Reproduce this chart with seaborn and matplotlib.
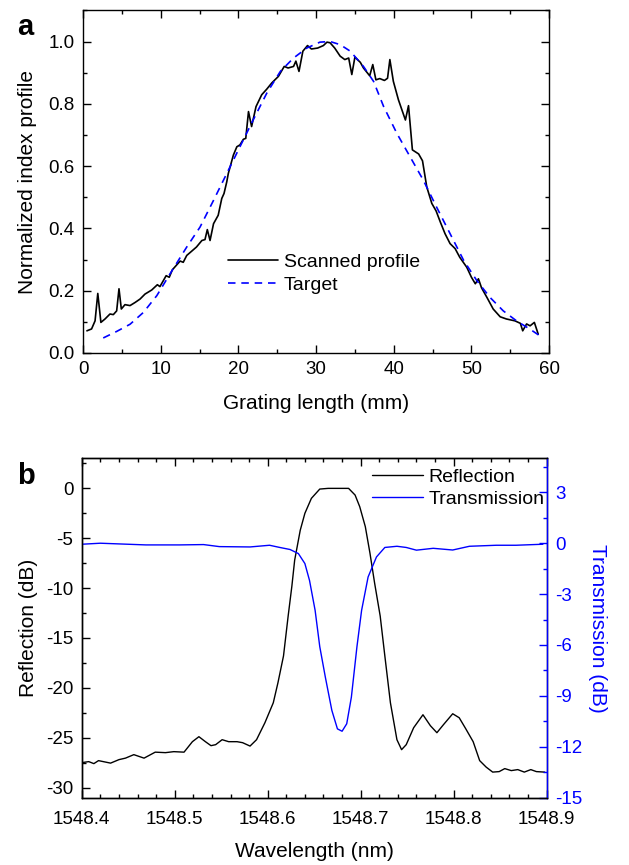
import numpy as np
import pandas as pd
import matplotlib
matplotlib.use("Agg")
import matplotlib.pyplot as plt
from matplotlib.ticker import MultipleLocator, FormatStrFormatter
import seaborn as sns

# ---------------- data: panel a ----------------
scan_x = [0.5, 1.1, 1.55, 1.9, 2.3, 2.83, 3.47, 3.9, 4.33, 4.63, 4.93, 5.4, 6.05, 6.7, 7.34,
          7.98, 8.84, 9.57, 9.9, 10.7, 11.1, 11.5, 12.5, 12.9, 13.35, 14.0, 14.6, 15.3, 15.7, 16.0,
          16.35, 16.8, 17.4, 17.86, 18.15, 18.5, 18.7, 19.35, 19.8, 20.2, 20.64, 20.95, 21.3, 21.7, 22.27,
          23.0, 23.65, 24.3, 25.15, 25.9, 26.4, 27.1, 27.4, 27.8, 28.3, 28.9, 29.4, 30.2, 30.94, 31.4,
          31.8, 32.4, 33.1, 33.7, 34.2, 34.6, 35.0, 35.7, 36.1, 36.9, 37.3, 37.7, 38.2, 38.8, 39.2,
          39.5, 39.95, 40.6, 41.5, 41.9, 42.4, 43.2, 43.7, 44.25, 44.9, 45.45, 46.0, 46.6, 47.25, 47.9,
          48.5, 49.4, 50.0, 50.5, 50.9, 51.3, 52.0, 52.8, 53.7, 54.5, 55.6, 56.3, 56.6, 57.1, 57.55,
          58.1, 58.6]
scan_y = [0.071, 0.077, 0.103, 0.191, 0.098, 0.109, 0.125, 0.123, 0.135, 0.206, 0.141, 0.155, 0.152, 0.162, 0.173,
          0.189, 0.202, 0.219, 0.213, 0.248, 0.243, 0.267, 0.295, 0.291, 0.313, 0.327, 0.340, 0.361, 0.364, 0.396,
          0.361, 0.415, 0.442, 0.496, 0.512, 0.549, 0.576, 0.635, 0.662, 0.668, 0.686, 0.689, 0.775, 0.727, 0.791,
          0.829, 0.847, 0.867, 0.888, 0.920, 0.915, 0.920, 0.937, 0.904, 0.969, 0.987, 0.976, 0.979, 0.987, 0.998,
          0.996, 0.979, 0.953, 0.942, 0.947, 0.894, 0.950, 0.933, 0.915, 0.890, 0.926, 0.877, 0.881, 0.875, 0.882,
          0.942, 0.872, 0.813, 0.748, 0.794, 0.652, 0.639, 0.617, 0.533, 0.480, 0.456, 0.420, 0.383, 0.351, 0.335,
          0.307, 0.275, 0.243, 0.222, 0.238, 0.209, 0.178, 0.141, 0.116, 0.109, 0.103, 0.095, 0.071, 0.093, 0.087,
          0.098, 0.060]
tgt_x = [2.6, 4.33, 6.05, 7.77, 9.5, 11.2, 13.35, 15.06, 16.8, 18.5, 20.2, 21.9, 23.65, 25.4, 27.1,
         28.8, 30.5, 31.8, 33.1, 34.4, 36.1, 37.4, 38.7, 40.4, 42.1, 43.8, 45.5, 47.25, 49.0, 50.7,
         52.4, 54.1, 55.8, 57.55, 58.8]
tgt_y = [0.048, 0.069, 0.092, 0.130, 0.184, 0.254, 0.340, 0.404, 0.490, 0.576, 0.662, 0.748, 0.834, 0.904, 0.947,
         0.979, 0.998, 1.0, 0.990, 0.969, 0.920, 0.872, 0.791, 0.705, 0.630, 0.555, 0.469, 0.383, 0.297, 0.232,
         0.178, 0.135, 0.103, 0.076, 0.055]

# ---------------- data: panel b ----------------
refl_x = [1548.400, 1548.4075, 1548.413, 1548.418, 1548.431, 1548.440, 1548.447, 1548.456, 1548.467, 1548.479,
          1548.490, 1548.499, 1548.510, 1548.519, 1548.526, 1548.533, 1548.539, 1548.544, 1548.551, 1548.558,
          1548.567, 1548.573, 1548.581, 1548.588, 1548.597, 1548.606, 1548.611, 1548.617, 1548.622, 1548.626,
          1548.629, 1548.635, 1548.640, 1548.647, 1548.656, 1548.665, 1548.687, 1548.694, 1548.699, 1548.705,
          1548.710, 1548.715, 1548.721, 1548.726, 1548.732, 1548.739, 1548.744, 1548.749, 1548.757, 1548.767,
          1548.775, 1548.782, 1548.789, 1548.799, 1548.806, 1548.813, 1548.821, 1548.828, 1548.835, 1548.842,
          1548.849, 1548.855, 1548.862, 1548.869, 1548.876, 1548.883, 1548.889, 1548.898]
refl_y = [-27.5, -27.4, -27.6, -27.3, -27.55, -27.2, -27.05, -26.7, -27.05, -26.45,
          -26.5, -26.4, -26.45, -25.4, -24.9, -25.4, -25.8, -25.7, -25.2, -25.4,
          -25.4, -25.5, -25.84, -25.2, -23.5, -21.5, -19.5, -16.8, -12.8, -9.8,
          -7.2, -4.2, -2.5, -1.0, -0.07, 0.0, 0.0, -0.67, -1.84, -3.84,
          -6.5, -9.5, -12.8, -16.8, -21.5, -25.2, -26.2, -25.7, -24.0, -22.7,
          -23.8, -24.5, -23.7, -22.6, -23.0, -24.1, -25.4, -27.3, -27.95, -28.45,
          -28.4, -28.1, -28.3, -28.2, -28.45, -28.2, -28.4, -28.45]
trans_x = [1548.400, 1548.420, 1548.469, 1548.505, 1548.531, 1548.548, 1548.581, 1548.602, 1548.613, 1548.624,
           1548.633, 1548.640, 1548.645, 1548.651, 1548.656, 1548.662, 1548.669, 1548.675, 1548.680, 1548.685,
           1548.690, 1548.696, 1548.701, 1548.708, 1548.717, 1548.726, 1548.739, 1548.749, 1548.760, 1548.778,
           1548.799, 1548.817, 1548.846, 1548.867, 1548.896]
trans_y = [-0.06, 0.0, -0.1, -0.1, -0.08, -0.2, -0.22, -0.12, -0.25, -0.37,
           -0.61, -1.2, -2.2, -3.96, -6.1, -7.9, -9.86, -10.95, -11.09, -10.65,
           -9.08, -6.1, -3.96, -1.99, -0.81, -0.25, -0.18, -0.25, -0.41, -0.3,
           -0.4, -0.18, -0.12, -0.12, -0.06]

# ---------------- style ----------------
sns.set_style("ticks")
plt.rcParams["font.family"] = ["Liberation Sans", "DejaVu Sans"]
plt.rcParams["axes.linewidth"] = 1.0
plt.rcParams["axes.unicode_minus"] = False
for k in ["text.color", "axes.labelcolor", "xtick.color", "ytick.color", "axes.edgecolor"]:
    plt.rcParams[k] = "black"

TICK_FS = 13.5
LABEL_FS = 15
LEG_FS = 14
BLUE = "#0000ff"

fig = plt.figure(figsize=(6.29, 8.65), dpi=100)

# ---------------- panel a ----------------
axa = fig.add_axes([0.132, 0.592, 0.741, 0.396])
df_scan = pd.DataFrame({"x": scan_x, "y": scan_y})
df_tgt = pd.DataFrame({"x": tgt_x, "y": tgt_y})
sns.lineplot(data=df_scan, x="x", y="y", ax=axa, color="black", lw=1.2,
             label="Scanned profile", sort=False)
sns.lineplot(data=df_tgt, x="x", y="y", ax=axa, color=BLUE, lw=1.2,
             label="Target", sort=False, linestyle=(0, (4.5, 3.5)))
axa.set_xlim(0, 60)
axa.set_ylim(0, 1.1)
axa.xaxis.set_major_locator(MultipleLocator(10))
axa.xaxis.set_minor_locator(MultipleLocator(5))
axa.yaxis.set_minor_locator(MultipleLocator(0.1))
axa.set_yticks([0.0, 0.2, 0.4, 0.6, 0.8, 1.0])
axa.yaxis.set_major_formatter(FormatStrFormatter("%.1f"))
axa.tick_params(which="both", direction="in", top=True, right=True,
                labelsize=TICK_FS, width=1.0)
axa.tick_params(which="major", length=5.5)
axa.tick_params(which="minor", length=3)
axa.tick_params(axis="x", which="major", pad=6)
axa.tick_params(axis="y", which="major", pad=6)
axa.set_xlabel("Grating length (mm)", fontsize=LABEL_FS, labelpad=11)
axa.set_ylabel("Normalized index profile", fontsize=LABEL_FS, labelpad=8)
axa.legend(loc="upper left", bbox_to_anchor=(0.31, 0.29), frameon=False,
           fontsize=LEG_FS, handlelength=2.6, handletextpad=0.3,
           labelspacing=0.25, borderpad=0, borderaxespad=0)
fig.text(0.027, 0.985, "a", fontsize=21, fontweight="bold", va="top", ha="left")

# ---------------- panel b ----------------
axb = fig.add_axes([0.130, 0.078, 0.739, 0.392])
df_refl = pd.DataFrame({"x": refl_x, "y": refl_y})
df_trans = pd.DataFrame({"x": trans_x, "y": trans_y})
sns.lineplot(data=df_refl, x="x", y="y", ax=axb, color="black", lw=1.0,
             label="Reflection", sort=False, legend=False)
axb2 = axb.twinx()
sns.lineplot(data=df_trans, x="x", y="y", ax=axb2, color=BLUE, lw=1.0,
             label="Transmission", sort=False, legend=False)
axb.set_xlim(1548.4, 1548.9)
axb.set_ylim(-31, 3)
axb2.set_ylim(-15, 5)
axb.xaxis.set_major_locator(MultipleLocator(0.1))
axb.xaxis.set_minor_locator(MultipleLocator(0.02))
axb.xaxis.set_major_formatter(FormatStrFormatter("%.1f"))
axb.yaxis.set_major_locator(MultipleLocator(5))
axb.yaxis.set_minor_locator(MultipleLocator(2.5))
axb2.yaxis.set_major_locator(MultipleLocator(3))
axb2.yaxis.set_minor_locator(MultipleLocator(1.5))
axb.tick_params(which="both", direction="in", top=True, right=False,
                labelsize=TICK_FS, width=1.0)
axb.tick_params(which="major", length=5.5)
axb.tick_params(which="minor", length=3)
axb.tick_params(axis="x", which="major", pad=10)
axb.tick_params(axis="y", which="major", pad=6)
axb2.tick_params(which="both", direction="in", right=True, labelsize=TICK_FS,
                 colors=BLUE, width=1.0)
axb2.tick_params(which="major", length=5.5, pad=6)
axb2.tick_params(which="minor", length=3)
axb2.spines["right"].set_color(BLUE)
axb2.spines["right"].set_linewidth(1.0)
axb.set_xlabel("Wavelength (nm)", fontsize=LABEL_FS, labelpad=10)
axb.set_ylabel("Reflection (dB)", fontsize=LABEL_FS, labelpad=6)
axb2.set_ylabel("Transmission (dB)", fontsize=LABEL_FS, color=BLUE,
                rotation=270, labelpad=18)
h1, l1 = axb.get_legend_handles_labels()
h2, l2 = axb2.get_legend_handles_labels()
axb2.legend(h1 + h2, l1 + l2, loc="upper left", bbox_to_anchor=(0.625, 0.97),
            frameon=False, fontsize=LEG_FS, handlelength=2.6, handletextpad=0.3,
            labelspacing=0.2, borderpad=0, borderaxespad=0)
fig.text(0.027, 0.466, "b", fontsize=21, fontweight="bold", va="top", ha="left")

fig.savefig("out.png", dpi=100)
